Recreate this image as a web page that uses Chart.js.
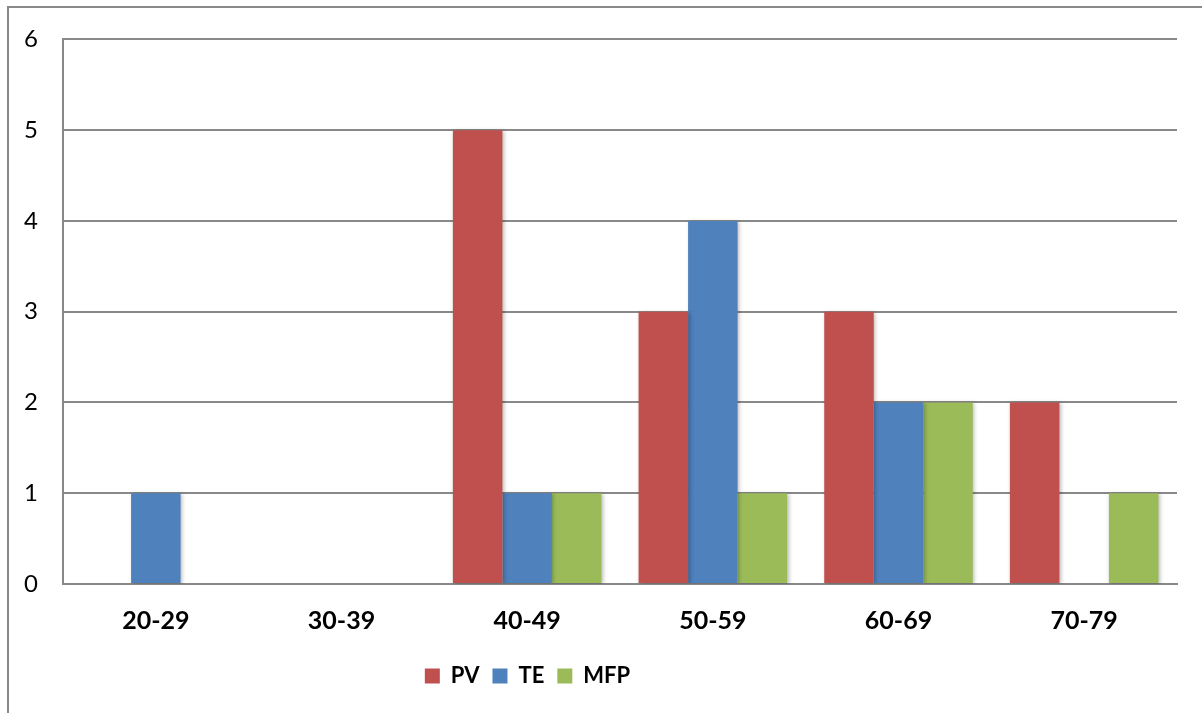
<!DOCTYPE html>
<html>
<head>
<meta charset="utf-8">
<script src="https://cdn.jsdelivr.net/npm/chart.js@4/dist/chart.umd.min.js"></script>
<style>
  html, body { margin: 0; padding: 0; background: #fff; }
  #wrap { width: 1202px; height: 713px; position: relative; }
</style>
</head>
<body>
<div id="wrap"><canvas id="c" width="1202" height="713"></canvas></div>
<script>
// Age groups and counts per group
const categories = ['20-29', '30-39', '40-49', '50-59', '60-69', '70-79'];
const pvCounts  = [0, 0, 5, 3, 3, 2];
const teCounts  = [1, 0, 1, 4, 2, 0];
const mfpCounts = [0, 0, 1, 1, 2, 1];
const yTicks = [0, 1, 2, 3, 4, 5, 6];

const GRID = '#898989';

// Frame lines along the top and left edge of the figure
const framePlugin = {
  id: 'frame',
  beforeDraw(chart) {
    const ctx = chart.ctx;
    ctx.save();
    ctx.strokeStyle = GRID;
    ctx.lineWidth = 2;
    ctx.beginPath();
    ctx.moveTo(8, 713);
    ctx.lineTo(8, 7);
    ctx.lineTo(1202, 7);
    ctx.stroke();
    ctx.restore();
  }
};

// Soft drop shadow under the bars
const shadowPlugin = {
  id: 'barShadow',
  beforeDatasetsDraw(chart) {
    const ctx = chart.ctx;
    ctx.save();
    ctx.shadowColor = 'rgba(0,0,0,0.28)';
    ctx.shadowBlur = 4;
    ctx.shadowOffsetX = 1.5;
    ctx.shadowOffsetY = 1;
  },
  afterDatasetsDraw(chart) {
    chart.ctx.restore();
  }
};

// Legend sits a little left of centre
const legendShift = {
  id: 'legendShift',
  afterLayout(chart) {
    const lg = chart.legend;
    if (lg) { lg.left -= 61; lg.right -= 61; }
  }
};

new Chart(document.getElementById('c'), {
  type: 'bar',
  data: {
    labels: categories,
    datasets: [
      { label: 'PV',  data: pvCounts,  backgroundColor: '#C0504D' },
      { label: 'TE',  data: teCounts,  backgroundColor: '#4F81BD' },
      { label: 'MFP', data: mfpCounts, backgroundColor: '#9BBB59' }
    ]
  },
  options: {
    responsive: false,
    animation: false,
    devicePixelRatio: 1,
    layout: { padding: { left: 0, top: 38, right: 25, bottom: 16 } },
    datasets: { bar: { categoryPercentage: 0.8, barPercentage: 1.0 } },
    scales: {
      x: {
        grid: { display: false, drawTicks: false },
        border: { display: true, color: GRID, width: 2 },
        ticks: {
          color: '#000',
          padding: 22,
          font: { family: 'Lato', size: 25, weight: 'bold' }
        },
        afterFit(scale) { scale.height = 68; }
      },
      y: {
        min: 0,
        max: 6,
        afterBuildTicks(scale) { scale.ticks = yTicks.map(v => ({ value: v })); },
        grid: { color: GRID, lineWidth: 2, drawTicks: false },
        border: { display: true, color: GRID, width: 2 },
        ticks: {
          color: '#000',
          padding: 25,
          font: { family: 'Lato', size: 24 }
        },
        afterFit(scale) { scale.width = 63; }
      }
    },
    plugins: {
      legend: {
        position: 'bottom',
        labels: {
          boxWidth: 15,
          boxHeight: 15,
          padding: 13,
          color: '#000',
          font: { family: 'Lato', size: 22, weight: 'bold' }
        }
      },
      tooltip: { enabled: false }
    }
  },
  plugins: [framePlugin, shadowPlugin, legendShift]
});
</script>
</body>
</html>
